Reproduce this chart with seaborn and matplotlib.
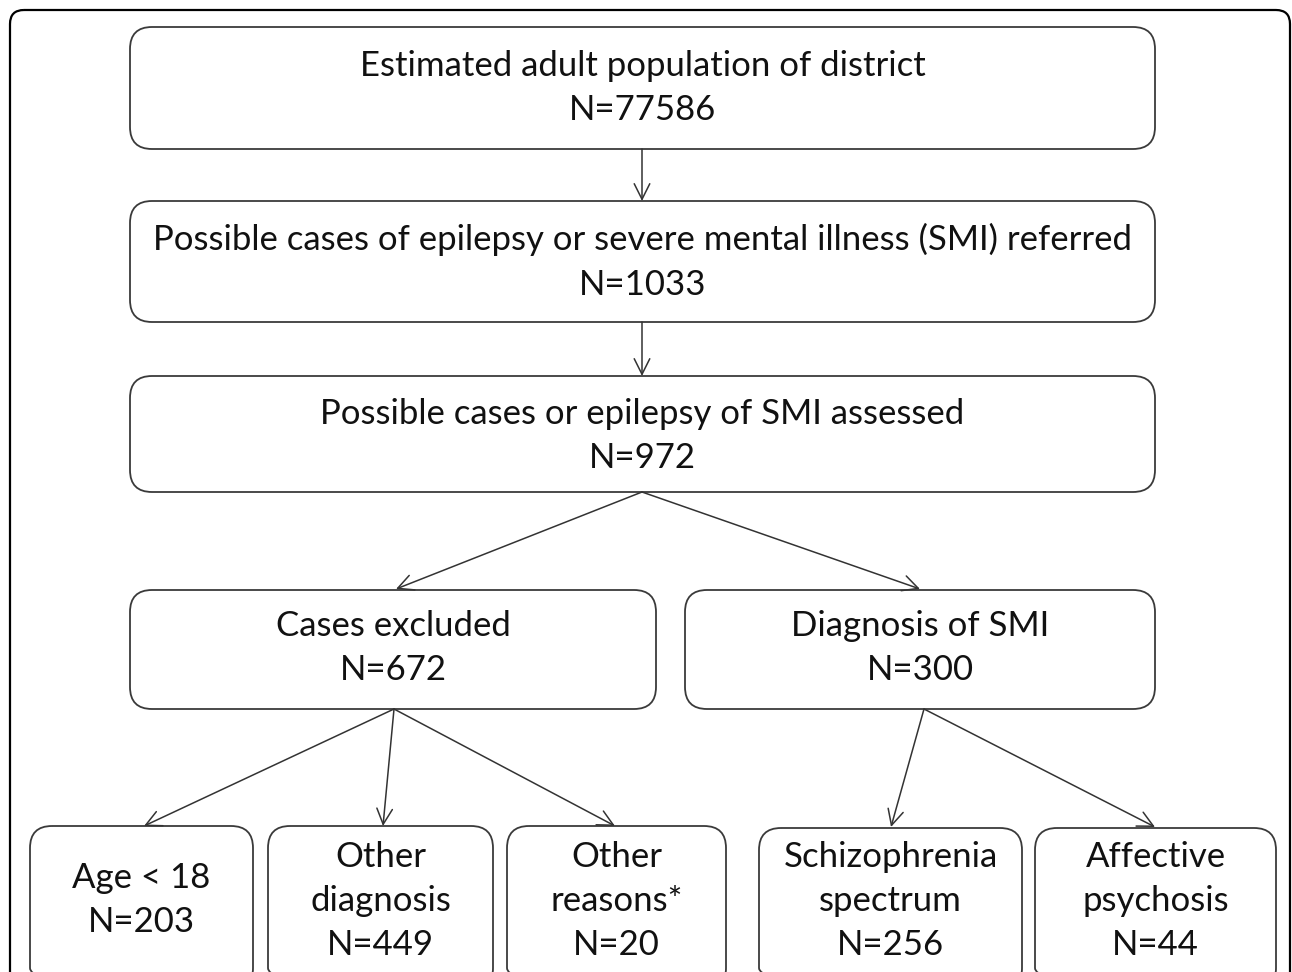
import seaborn as sns
import matplotlib.pyplot as plt
from matplotlib.patches import FancyBboxPatch, FancyArrowPatch

# flowchart content
box_titles = [
    "Estimated adult population of district",
    "Possible cases of epilepsy or severe mental illness (SMI) referred",
    "Possible cases or epilepsy of SMI assessed",
    "Cases excluded",
    "Diagnosis of SMI",
    "Age < 18",
    "Other\ndiagnosis",
    "Other\nreasons*",
    "Schizophrenia\nspectrum",
    "Affective\npsychosis",
]
box_counts = [77586, 1033, 972, 672, 300, 203, 449, 20, 256, 44]
# which box points to which
links = [(0, 1), (1, 2), (2, 3), (2, 4), (3, 5), (3, 6), (3, 7), (4, 8), (4, 9)]

# layout in pixels: x0, y0, x1, y1
box_pos = [
    (130, 27, 1155, 149),
    (130, 201, 1155, 322),
    (130, 376, 1155, 492),
    (130, 590, 656, 709),
    (685, 590, 1155, 709),
    (30, 826, 253, 990),
    (268, 826, 493, 990),
    (507, 826, 726, 990),
    (759, 828, 1022, 990),
    (1035, 828, 1276, 990),
]
# text centre (y) and arrow anchors
text_y = [88, 262, 436, 648, 648, 900, 901, 901, 901, 901]
arrow_start = {0: (642, 149), 1: (642, 322), 2: (642, 492), 3: (394, 709), 4: (924, 709)}
arrow_end = {1: (642, 201), 2: (642, 376), 3: (396, 589), 4: (920, 589),
             5: (144, 826), 6: (383, 826), 7: (615, 826), 8: (891, 827), 9: (1155, 827)}


def flow_chart(save_file):
    sns.set_theme(style="white")
    plt.rcParams['font.family'] = ['Lato', 'DejaVu Sans']

    fig = plt.figure(figsize=(12.92, 9.72), dpi=100)
    ax = fig.add_axes([0, 0, 1, 1])
    ax.set_xlim(0, 1292)
    ax.set_ylim(972, 0)
    ax.axis("off")

    # outer frame
    ax.add_patch(FancyBboxPatch((10, 10), 1280, 1000,
                                boxstyle="round,pad=0,rounding_size=14",
                                fill=False, ec="black", lw=1.6))

    for i, (x0, y0, x1, y1) in enumerate(box_pos):
        ax.add_patch(FancyBboxPatch((x0, y0), x1 - x0, y1 - y0,
                                    boxstyle="round,pad=0,rounding_size=22",
                                    fill=False, ec="#3a3a3a", lw=1.3))
        ax.text((x0 + x1) / 2, text_y[i], f"{box_titles[i]}\nN={box_counts[i]}",
                ha="center", va="center", fontsize=25, linespacing=1.47,
                color="#111111")

    for a, b in links:
        ax.add_patch(FancyArrowPatch(arrow_start[a], arrow_end[b],
                                     arrowstyle="->,head_length=0.8,head_width=0.4",
                                     mutation_scale=14, shrinkA=0, shrinkB=0,
                                     color="#333333", lw=1.1))

    plt.savefig(save_file, dpi=100)


if __name__ == '__main__':
    flow_chart("out.png")
